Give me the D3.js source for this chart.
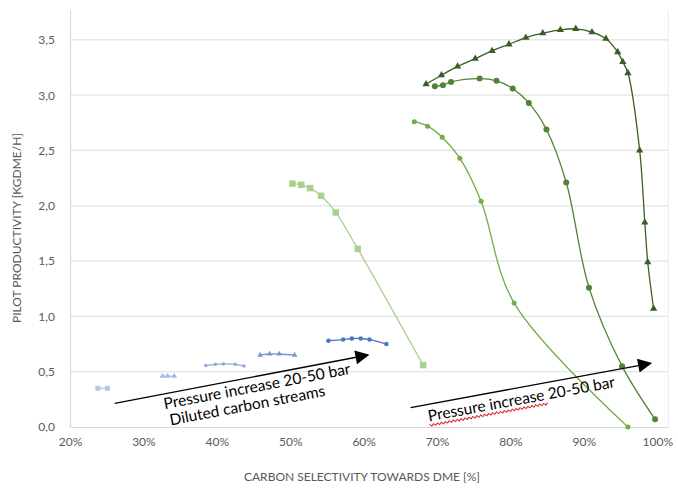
<!DOCTYPE html>
<html><head><meta charset="utf-8">
<script src="https://cdn.jsdelivr.net/npm/d3@7"></script>
<style>body{margin:0;background:#fff}svg{display:block}</style>
</head><body>
<svg id="c" width="678" height="493"></svg>
<script>
// ---- data ----
const xTicks = [20, 30, 40, 50, 60, 70, 80, 90, 100];
const yTicks = [0, 0.5, 1.0, 1.5, 2.0, 2.5, 3.0, 3.5];

const s1X = [23.8, 25.1];
const s1Y = [0.35, 0.35];
const s2X = [32.6, 33.3, 34.2];
const s2Y = [0.46, 0.46, 0.46];
const s3X = [38.5, 39.8, 40.9, 42.5, 43.7];
const s3Y = [0.555, 0.567, 0.57, 0.567, 0.552];
const s4X = [45.9, 47.2, 48.5, 50.6];
const s4Y = [0.65, 0.66, 0.66, 0.65];
const s5X = [55.2, 57.2, 58.4, 59.6, 60.8, 63.1];
const s5Y = [0.78, 0.79, 0.80, 0.80, 0.79, 0.75];
const s6X = [50.3, 51.5, 52.7, 54.2, 56.2, 59.2, 68.1];
const s6Y = [2.20, 2.19, 2.16, 2.09, 1.94, 1.61, 0.56];
const s7X = [66.9, 68.7, 70.7, 73.1, 76.0, 80.5, 96.0];
const s7Y = [2.76, 2.72, 2.62, 2.43, 2.04, 1.12, 0.0];
const s8X = [69.7, 70.8, 71.9, 75.8, 78.1, 80.3, 82.5, 84.9, 87.6, 90.7, 95.2, 99.7];
const s8Y = [3.08, 3.09, 3.12, 3.15, 3.13, 3.06, 2.93, 2.69, 2.21, 1.26, 0.55, 0.07];
const s9X = [68.5, 70.6, 72.8, 75.2, 77.5, 79.8, 82.1, 84.4, 86.8, 88.9, 91.1, 93.0, 94.6, 95.3, 96.0, 97.6, 98.3, 98.7, 99.5];
const s9Y = [3.10, 3.18, 3.26, 3.33, 3.40, 3.46, 3.52, 3.56, 3.59, 3.60, 3.57, 3.51, 3.39, 3.30, 3.20, 2.50, 1.85, 1.49, 1.07];

const arrowLeft = {x: [26.1, 60.6], y: [0.214, 0.651]};
const arrowRight = {x: [66.4, 99.1], y: [0.175, 0.576]};
const labelLeft1 = "Pressure increase 20-50 bar";
const labelLeft2 = "Diluted carbon streams";
const labelRight = "Pressure increase 20-50 bar";

const seriesDefs = [
  {x: s1X, y: s1Y, color: "#b4c7e7", shape: "square", size: 5},
  {x: s2X, y: s2Y, color: "#a3bbe5", shape: "triangle", size: 5},
  {x: s3X, y: s3Y, color: "#8eaadc", shape: "circle", size: 3.5},
  {x: s4X, y: s4Y, color: "#7597d6", shape: "triangle", size: 5},
  {x: s5X, y: s5Y, color: "#4a75c8", shape: "circle", size: 4.5},
  {x: s6X, y: s6Y, color: "#a9d18e", shape: "square", size: 6.5},
  {x: s7X, y: s7Y, color: "#70ad47", shape: "circle", size: 5},
  {x: s8X, y: s8Y, color: "#548235", shape: "circle", size: 6},
  {x: s9X, y: s9Y, color: "#3b5e25", shape: "triangle", size: 6.5}
];

// ---- chart ----
const svg = d3.select("#c");
const x = d3.scaleLinear().domain([20, 101.5]).range([70, 668.3]);
const y = d3.scaleLinear().domain([0, 3.77]).range([427, 10]);
const font = "Lato, 'Open Sans', sans-serif";

// gridlines
svg.append("g").selectAll("line").data(yTicks.filter(d => d > 0)).join("line")
  .attr("x1", x(20)).attr("x2", x(101.5))
  .attr("y1", d => y(d)).attr("y2", d => y(d))
  .attr("stroke", "#e3e3e3").attr("stroke-width", 1.2);

// axes
const xAxis = d3.axisBottom(x).tickValues(xTicks).tickFormat(d => d + "%").tickSize(0).tickPadding(10);
const gx = svg.append("g").attr("transform", `translate(0,${y(0)})`).call(xAxis);
gx.select(".domain").attr("stroke", "#d9d9d9").attr("stroke-width", 1.2);
gx.selectAll("text").attr("fill", "#595959").style("font-family", font).style("font-size", "12px");

const yAxis = d3.axisLeft(y).tickValues(yTicks).tickFormat(d => d3.format(".1f")(d).replace(".", ",")).tickSize(0).tickPadding(15);
const gy = svg.append("g").attr("transform", `translate(${x(20)},0)`).call(yAxis);
gy.select(".domain").attr("stroke", "#d9d9d9").attr("stroke-width", 1.2);
gy.selectAll("text").attr("fill", "#595959").style("font-family", font).style("font-size", "12px");

// right border
svg.append("line").attr("x1", x(101.5)).attr("x2", x(101.5)).attr("y1", y(3.77)).attr("y2", y(0))
  .attr("stroke", "#ececec").attr("stroke-width", 1);

// titles
svg.append("text").attr("x", 362).attr("y", 481).attr("text-anchor", "middle")
  .attr("fill", "#595959").style("font-family", font).style("font-size", "12px")
  .text("CARBON SELECTIVITY TOWARDS DME [%]");
svg.append("text").attr("transform", "translate(21,228) rotate(-90)").attr("text-anchor", "middle")
  .attr("fill", "#595959").style("font-family", font).style("font-size", "12px")
  .text("PILOT PRODUCTIVITY [KGDME/H]");

// series
const line = d3.line().x(d => x(d[0])).y(d => y(d[1])).curve(d3.curveCatmullRom.alpha(0.5));
const tri = d3.symbol().type(d3.symbolTriangle);
seriesDefs.forEach(s => {
  const pts = s.x.map((v, i) => [v, s.y[i]]);
  const g = svg.append("g");
  g.append("path").datum(pts).attr("d", line).attr("fill", "none")
    .attr("stroke", s.color).attr("stroke-width", 1.3);
  const m = g.selectAll(".m").data(pts).join(
    enter => s.shape === "circle" ? enter.append("circle") : s.shape === "square" ? enter.append("rect") : enter.append("path"));
  if (s.shape === "circle") {
    m.attr("cx", d => x(d[0])).attr("cy", d => y(d[1])).attr("r", s.size / 2).attr("fill", s.color);
  } else if (s.shape === "square") {
    m.attr("x", d => x(d[0]) - s.size / 2).attr("y", d => y(d[1]) - s.size / 2)
      .attr("width", s.size).attr("height", s.size).attr("fill", s.color);
  } else {
    m.attr("d", tri.size(s.size * s.size * 0.55)).attr("transform", d => `translate(${x(d[0])},${y(d[1])})`).attr("fill", s.color);
  }
});

// arrows
const defs = svg.append("defs");
defs.append("marker").attr("id", "ah").attr("viewBox", "0 0 10 10").attr("refX", 9).attr("refY", 5)
  .attr("markerWidth", 18).attr("markerHeight", 14).attr("markerUnits", "userSpaceOnUse")
  .attr("orient", "auto")
  .append("path").attr("d", "M0,0 L10,5 L0,10 Z").attr("fill", "#000");

function arrow(a) {
  const x1 = x(a.x[0]), y1 = y(a.y[0]), x2 = x(a.x[1]), y2 = y(a.y[1]);
  svg.append("line").attr("x1", x1).attr("y1", y1).attr("x2", x2).attr("y2", y2)
    .attr("stroke", "#000").attr("stroke-width", 1.3).attr("marker-end", "url(#ah)");
  return Math.atan2(y2 - y1, x2 - x1) * 180 / Math.PI;
}
const angL = arrow(arrowLeft);
const angR = arrow(arrowRight);

const tL = svg.append("g").attr("transform", `translate(${x(32.9)},${y(0.16)}) rotate(${angL})`);
tL.append("text").attr("x", 0).attr("y", 0).style("font-family", font).style("font-size", "15.5px")
  .attr("fill", "#000").text(labelLeft1);
tL.append("text").attr("x", 3).attr("y", 17).style("font-family", font).style("font-size", "15.5px")
  .attr("fill", "#000").text(labelLeft2);

const tR = svg.append("g").attr("transform", `translate(${x(68.9)},${y(0.05)}) rotate(${angR})`);
tR.append("text").attr("x", 0).attr("y", 0).style("font-family", font).style("font-size", "15.5px")
  .attr("fill", "#000").text(labelRight);
// spell-check squiggle under "Pressure increase"
const meas = tR.append("text").style("font-family", font).style("font-size", "15.5px").attr("opacity", 0).text("Pressure increase");
const wl = meas.node().getComputedTextLength();
meas.remove();
let dStr = "M0,3";
for (let i = 0, k = 0; i < wl; i += 2, k++) dStr += ` L${i + 2},${k % 2 ? 3 : 5}`;
tR.append("path").attr("d", dStr).attr("fill", "none").attr("stroke", "#e02020").attr("stroke-width", 1);
</script>
</body></html>
